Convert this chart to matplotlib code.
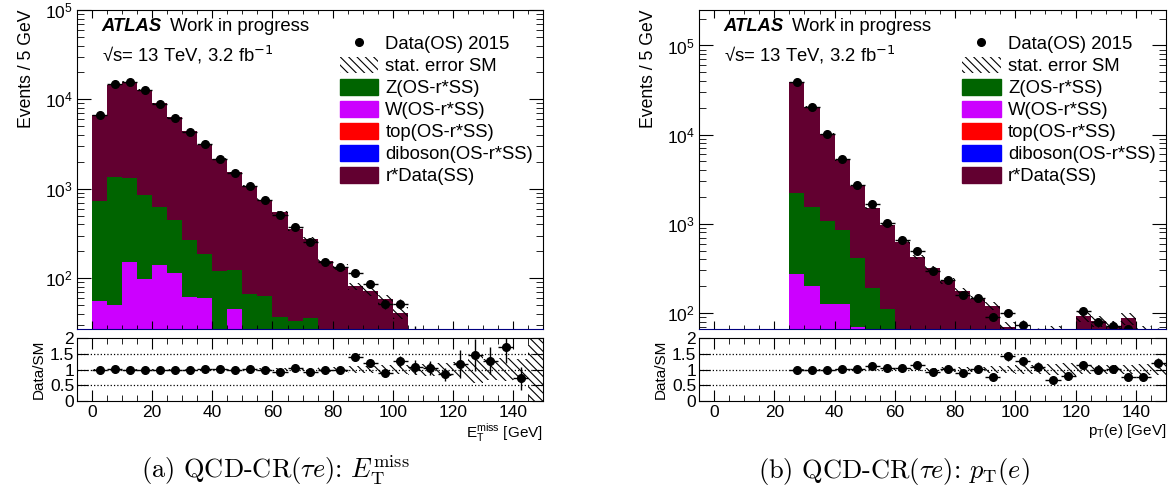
import numpy as np
import matplotlib
matplotlib.use('Agg')
import matplotlib.pyplot as plt
from matplotlib.patches import Patch
from matplotlib.lines import Line2D
from matplotlib.ticker import MultipleLocator, LogLocator, NullFormatter

plt.rcParams['font.family'] = ['Liberation Sans', 'DejaVu Sans']
plt.rcParams['font.size'] = 12.5
plt.rcParams['hatch.linewidth'] = 0.8

# --- binning (5 GeV bins, 0-150) ---
edges = np.arange(0, 155, 5)

# --- (a) E_T^miss ---
data_a = [6700, 14900, 15800, 12600, 8900, 6150, 4370, 3170, 2180, 1520, 1080, 750, 510, 370, 252,
          153, 135, 114, 86, 52, 52, 24, 21, 17, 7, 8, 9, 12, 4, 0]
dib_a = [1, 1, 1, 1, 1, 1, 1, 0, 0, 0, 0, 0, 0, 0, 0, 0, 0, 0, 0, 0, 0, 0, 0, 0, 0, 0, 0, 0, 0, 0]
top_a = [2, 3, 3, 2, 2, 1, 1, 1, 0, 0, 0, 0, 0, 0, 0, 0, 0, 0, 0, 0, 0, 0, 0, 0, 0, 0, 0, 0, 0, 0]
w_a = [52, 46, 147, 96, 139, 113, 59, 59, 25, 45, 18, 12, 8, 6, 4, 3, 2, 1, 1, 1, 0, 0, 0, 0, 0, 0, 0, 0, 0, 0]
z_a = [679, 1300, 1153, 751, 483, 328, 204, 127, 94, 77, 49, 51, 29, 27, 32, 21, 18, 14, 11, 9, 8, 5, 4, 3,
       1, 1, 1, 1, 1, 0]
qcd_a = [5970, 13250, 14500, 12010, 8460, 5840, 4110, 2890, 2020, 1400, 1010, 690, 510, 320, 235, 130, 115,
         66, 60, 48, 33, 17, 16, 17, 5, 4.5, 6, 6, 4.5, 0]
relerr_a = [0.01, 0.01, 0.01, 0.01, 0.012, 0.015, 0.015, 0.018, 0.02, 0.025, 0.03, 0.035, 0.04, 0.05, 0.06,
            0.07, 0.08, 0.1, 0.12, 0.13, 0.15, 0.18, 0.2, 0.22, 0.25, 0.42, 0.32, 0.35, 0.32, 1.0]

# --- (b) p_T(e) ---
data_b = [0, 0, 0, 0, 0, 38800, 20600, 10200, 5300, 2750, 1650, 1030, 660, 491, 293, 234, 160, 146, 91, 99,
          74, 60, 40, 43, 104, 79, 72, 66, 45, 60]
dib_b = [0, 0, 0, 0, 0, 3, 2, 1, 1, 1, 0, 0, 0, 0, 0, 0, 0, 0, 0, 0, 0, 0, 0, 0, 0, 0, 0, 0, 0, 0]
top_b = [0, 0, 0, 0, 0, 4, 3, 2, 1, 1, 1, 0, 0, 0, 0, 0, 0, 0, 0, 0, 0, 0, 0, 0, 0, 0, 0, 0, 0, 0]
w_b = [0, 0, 0, 0, 0, 263, 193, 124, 124, 67, 40, 25, 15, 10, 8, 6, 4, 3, 2, 2, 1, 1, 1, 1, 1, 1, 1, 1, 1, 0]
z_b = [0, 0, 0, 0, 0, 1957, 1337, 936, 716, 343, 149, 86, 35, 25, 17, 12, 8, 7, 6, 4, 4, 3, 2, 2, 2, 1, 1,
       1, 1, 1]
qcd_b = [0, 0, 0, 0, 0, 36580, 19070, 9140, 4360, 2260, 1311, 869, 573, 392, 293, 211, 166, 132, 113, 64,
         54, 51, 57, 52, 89, 79, 68, 85, 58, 49]
relerr_b = [0, 0, 0, 0, 0, 0.006, 0.008, 0.01, 0.015, 0.02, 0.025, 0.03, 0.04, 0.05, 0.06, 0.07, 0.08, 0.09,
            0.1, 0.12, 0.13, 0.15, 0.18, 0.2, 0.14, 0.15, 0.15, 0.15, 0.18, 0.18]

labels = ['Z(OS-r*SS)', 'W(OS-r*SS)', 'top(OS-r*SS)', 'diboson(OS-r*SS)', 'r*Data(SS)']
colors = {'Z': '#006400', 'W': '#cc00ff', 'top': '#ff0000', 'dib': '#0000ff', 'qcd': '#620030'}
HATCH = '\\\\\\\\'


def draw_panel(ax, axr, data, dib, top, w, z, qcd, relerr, ylim, xlabel):
    centers = 0.5 * (edges[:-1] + edges[1:])
    data = np.array(data, float)
    relerr = np.array(relerr, float)
    bottom = np.full(len(centers), 1e-2)
    for vals, c in [(dib, colors['dib']), (top, colors['top']), (w, colors['W']),
                    (z, colors['Z']), (qcd, colors['qcd'])]:
        upper = bottom + np.array(vals, float)
        ax.stairs(upper, edges, baseline=bottom, fill=True, color=c, lw=0)
        bottom = upper
    total = bottom - 1e-2

    # stat error band on SM
    lo = np.maximum(total * (1 - relerr), 1e-3)
    hi = np.maximum(total * (1 + relerr), 1e-3)
    ax.fill_between(edges, np.append(lo, lo[-1]), np.append(hi, hi[-1]), step='post',
                    facecolor='none', edgecolor='k', hatch=HATCH, lw=0)

    m = data > 0
    ax.errorbar(centers[m], data[m], xerr=2.5, yerr=np.sqrt(data[m]), fmt='o', color='k',
                ms=5.5, elinewidth=1, capsize=0)

    ax.set_yscale('log')
    ax.set_xlim(-5, 150)
    ax.set_ylim(*ylim)
    ax.yaxis.set_major_locator(LogLocator(base=10, numticks=10))
    ax.yaxis.set_minor_locator(LogLocator(base=10, subs=np.arange(2, 10), numticks=20))
    ax.yaxis.set_minor_formatter(NullFormatter())
    ax.xaxis.set_major_locator(MultipleLocator(20))
    ax.xaxis.set_minor_locator(MultipleLocator(5))
    ax.tick_params(axis='x', which='both', labelbottom=False)
    ax.tick_params(which='both', direction='in', top=True, right=True)
    ax.tick_params(axis='y', which='major', length=10, pad=3)
    ax.tick_params(axis='y', which='minor', length=5)
    ax.tick_params(axis='x', which='major', length=6)
    ax.tick_params(axis='x', which='minor', length=3)
    ax.spines['bottom'].set_color('#000080')
    ax.set_ylabel('Events / 5 GeV', loc='top', fontsize=12.7, labelpad=7)

    ax.text(0.053, 0.947, 'ATLAS', transform=ax.transAxes, fontweight='bold', fontstyle='italic',
            fontsize=13.3, va='center')
    ax.text(0.2, 0.947, 'Work in progress', transform=ax.transAxes, fontsize=13.3, va='center')
    ax.text(0.053, 0.858, '√s= 13 TeV, 3.2 fb$^{-1}$', transform=ax.transAxes, fontsize=13.3, va='center')

    handles = [Line2D([], [], marker='o', color='k', ls='none', ms=5.5),
               Patch(facecolor='white', edgecolor='k', hatch=HATCH, lw=0),
               Patch(color=colors['Z']), Patch(color=colors['W']), Patch(color=colors['top']),
               Patch(color=colors['dib']), Patch(color=colors['qcd'])]
    ax.legend(handles, ['Data(OS) 2015', 'stat. error SM'] + labels, loc='upper left',
              bbox_to_anchor=(0.5356, 0.962), frameon=False, fontsize=13.3, handlelength=2.1,
              handleheight=0.95, labelspacing=0.2, handletextpad=0.38, borderpad=0.2)

    # ratio panel
    ok = total > 0
    rlo = np.where(ok | (relerr > 0), 1 - relerr, 1)
    rhi = np.where(ok | (relerr > 0), 1 + relerr, 1)
    axr.fill_between(edges, np.append(rlo, rlo[-1]), np.append(rhi, rhi[-1]), step='post',
                     facecolor='none', edgecolor='k', hatch=HATCH, lw=0)
    for yv in (0.5, 1.0, 1.5):
        axr.axhline(yv, color='k', ls=':', lw=0.9)
    mr = ok & (data > 0)
    ratio = data[mr] / total[mr]
    rerr = np.sqrt(data[mr]) / total[mr]
    axr.errorbar(centers[mr], ratio, xerr=2.5, yerr=rerr, fmt='o', color='k', ms=5.5,
                 elinewidth=1, capsize=0)
    axr.set_xlim(-5, 150)
    axr.set_ylim(0, 2)
    axr.set_yticks([0, 0.5, 1, 1.5, 2])
    axr.set_yticklabels(['0', '0.5', '1', '1.5', '2'])
    axr.yaxis.set_minor_locator(MultipleLocator(0.1))
    axr.xaxis.set_major_locator(MultipleLocator(20))
    axr.xaxis.set_minor_locator(MultipleLocator(5))
    axr.tick_params(which='both', direction='in', top=True, right=True)
    axr.tick_params(axis='x', which='major', length=8, pad=3)
    axr.tick_params(axis='x', which='minor', length=4)
    axr.tick_params(axis='y', which='major', length=8, pad=2)
    axr.tick_params(axis='y', which='minor', length=0)
    axr.set_ylabel('Data/SM', fontsize=11, labelpad=3)
    axr.set_xlabel(xlabel, loc='right', fontsize=11, labelpad=1)


fig = plt.figure(figsize=(11.74, 5.0), dpi=100)
ax1 = fig.add_axes([0.0656, 0.342, 0.397, 0.638])
ax1r = fig.add_axes([0.0656, 0.198, 0.397, 0.126])
ax2 = fig.add_axes([0.5954, 0.342, 0.3978, 0.638])
ax2r = fig.add_axes([0.5954, 0.198, 0.3978, 0.126])

draw_panel(ax1, ax1r, data_a, dib_a, top_a, w_a, z_a, qcd_a, relerr_a, (27, 1e5),
           r'E$_{\mathregular{T}}^{\mathregular{miss}}$ [GeV]')
draw_panel(ax2, ax2r, data_b, dib_b, top_b, w_b, z_b, qcd_b, relerr_b, (66, 2.5e5),
           r'p$_{\mathregular{T}}$(e) [GeV]')

fig.text(0.235, 0.044, r'(a) QCD-CR$(\tau e)$: $E_{\mathrm{T}}^{\mathrm{miss}}$', fontfamily='cmr10',
         math_fontfamily='cm', fontsize=19, ha='center', va='baseline')
fig.text(0.7615, 0.044, r'(b) QCD-CR$(\tau e)$: $p_{\mathrm{T}}(e)$', fontfamily='cmr10',
         math_fontfamily='cm', fontsize=19, ha='center', va='baseline')

fig.savefig('out.png', dpi=100)
